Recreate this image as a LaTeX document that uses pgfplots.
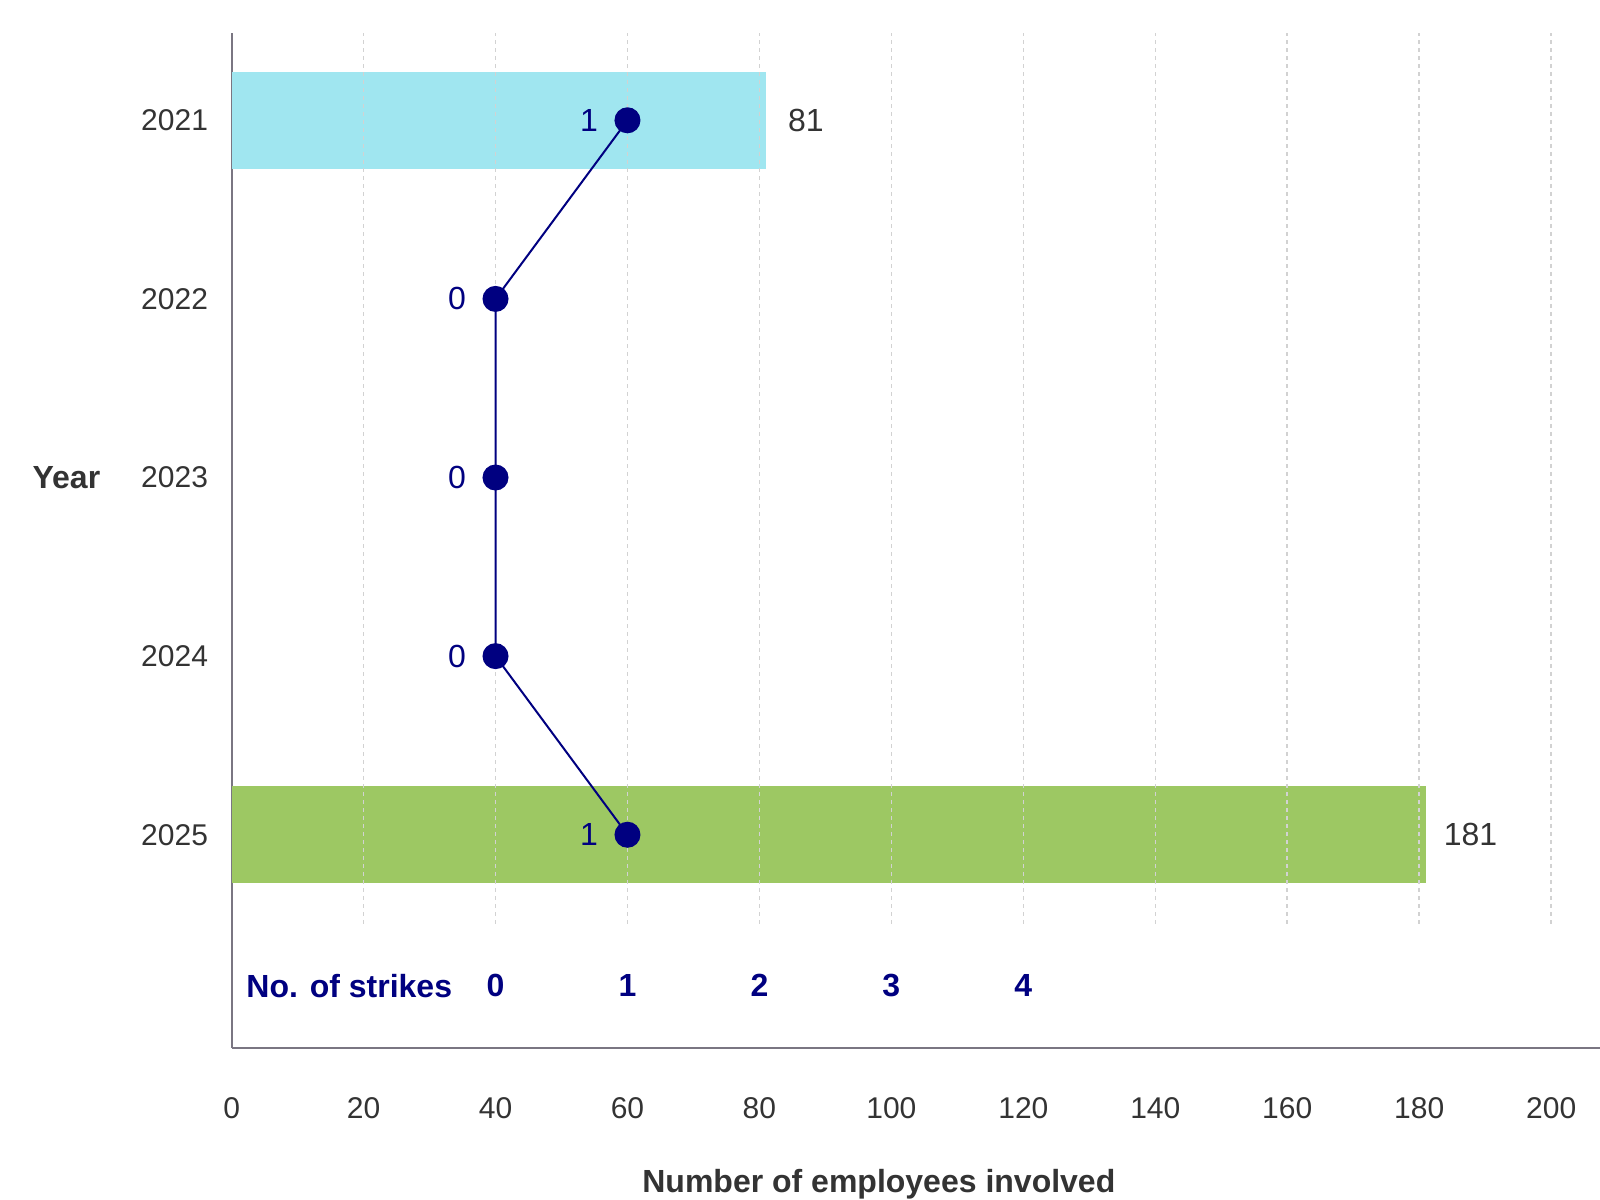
\documentclass[border=0pt]{standalone}
\usepackage{pgfplots}
\usepackage{pgfplotstable}
\pgfplotsset{compat=1.18}
\usepackage{fontspec}
\setmainfont{Liberation Sans}
\definecolor{txt}{HTML}{333333}
\definecolor{axisgray}{HTML}{7A7682}
\definecolor{gridgray}{HTML}{D2D2D2}
\definecolor{barcyan}{HTML}{A0E6F0}
\definecolor{bargreen}{HTML}{9DC863}
\definecolor{strk}{HTML}{000080}
\pgfplotstableread{
y s
5 1
4 0
3 0
2 0
1 1
}\strikes
\tikzset{strklab/.style={font=\fontsize{16bp}{19bp}\selectfont\bfseries, text=strk}}
\begin{document}
\begin{tikzpicture}
\path[use as bounding box] (-115.8bp,-76bp) rectangle (684.2bp,524bp);
\begin{axis}[
  at={(0,0)}, anchor=south west,
  scale only axis, width=684.2bp, height=507.7bp,
  xmin=0, xmax=207.4, ymin=-0.194, ymax=5.491,
  axis x line*=bottom, axis y line*=left,
  axis line style={draw=axisgray, line width=1bp, -},
  major tick length=0pt,
  xtick={0,20,...,200},
  ytick={1,2,3,4,5},
  yticklabels={2025,2024,2023,2022,2021},
  ticklabel style={font=\fontsize{15bp}{18bp}\selectfont, text=txt},
  xticklabel style={yshift=-21.5bp},
  yticklabel style={xshift=-8.3bp},
  /pgf/number format/assume math mode=true,
  clip=false,
]
\addplot[xbar, bar width=48.5bp, bar shift=0pt, fill=barcyan, draw=none,
  point meta=explicit symbolic, nodes near coords,
  every node near coord/.append style={font=\fontsize{16bp}{19bp}\selectfont, text=txt, anchor=west, xshift=7.5bp}]
  coordinates {(81,5) [81]};
\addplot[xbar, bar width=48.5bp, bar shift=0pt, fill=bargreen, draw=none,
  point meta=explicit symbolic, nodes near coords,
  every node near coord/.append style={font=\fontsize{16bp}{19bp}\selectfont, text=txt, anchor=west, xshift=5.5bp}]
  coordinates {(181,1) [181]};
\pgfplotsinvokeforeach{20,40,60,80,100,120,140,160,180,200}{
  \draw[gridgray, line width=0.8bp, dash pattern=on 2bp off 2bp] (axis cs:#1,0.503) -- (axis cs:#1,5.491);
}
\addplot[strk, line width=1bp, mark=*, mark size=6bp, mark options={fill=strk, draw=strk},
  point meta=explicit symbolic, nodes near coords,
  every node near coord/.append style={font=\fontsize{16bp}{19bp}\selectfont, text=strk, anchor=east, xshift=-11bp}]
  table[x expr=40+20*\thisrow{s}, y=y, meta=s]{\strikes};
% strikes scale row
\node[anchor=west, inner sep=0pt, strklab] at (axis cs:0,0.155) [xshift=7.2bp] {No. of strikes};
\node[strklab] at (axis cs:40,0.155) {0};
\node[strklab] at (axis cs:60,0.155) {1};
\node[strklab] at (axis cs:80,0.155) {2};
\node[strklab] at (axis cs:100,0.155) {3};
\node[strklab] at (axis cs:120,0.155) {4};
\node[font=\fontsize{16bp}{19bp}\selectfont\bfseries, text=txt] at (axis cs:0,3) [xshift=-82.6bp] {Year};
\node[font=\fontsize{16bp}{19bp}\selectfont\bfseries, text=txt] at (axis cs:98.1,-0.194) [yshift=-68.3bp] {Number of employees involved};
\end{axis}
\end{tikzpicture}
\end{document}
